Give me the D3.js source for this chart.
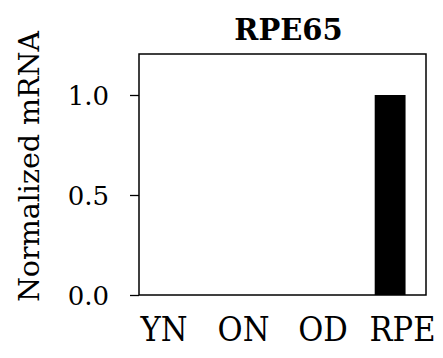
<!DOCTYPE html>
<html>
<head>
<meta charset="utf-8">
<script src="https://cdn.jsdelivr.net/npm/d3@7"></script>
<style>
  body { margin: 0; background: #fff; }
  text { font-family: "DejaVu Serif", serif; fill: #000; }
  .cond { font-family: "DejaVu Serif Condensed", "DejaVu Serif", serif; }
</style>
</head>
<body>
<svg id="chart" width="443" height="358"></svg>
<script>
// data
const categories = ["YN", "ON", "OD", "RPE"];
const values = [0, 0, 0, 1.0];
const yTicks = [0, 0.5, 1.0];
const title = "RPE65";
const yLabel = "Normalized mRNA";

const W = 443, H = 358;
const margin = {top: 54, right: 17, bottom: 63, left: 139};
const innerW = W - margin.left - margin.right,
      innerH = H - margin.top - margin.bottom;

const svg = d3.select("#chart");
const g = svg.append("g")
  .attr("transform", "translate(" + margin.left + "," + margin.top + ")");

const x = d3.scaleBand().domain(categories).range([0, innerW]).paddingInner(0.57).paddingOuter(0.285);
const y = d3.scaleLinear().domain([0, 1.205]).range([innerH, 0]);
// the category labels sit a little wider apart than the bars
const xLab = d3.scalePoint().domain(categories).range([24.5, 263]);

// plot frame
g.append("rect")
  .attr("width", innerW).attr("height", innerH)
  .attr("fill", "none").attr("stroke", "#000").attr("stroke-width", 1.5);

// bars
g.selectAll("rect.bar")
  .data(values)
  .enter().append("rect")
  .attr("class", "bar")
  .attr("x", (d, i) => x(categories[i]))
  .attr("width", x.bandwidth())
  .attr("y", d => y(d))
  .attr("height", d => innerH - y(d))
  .attr("fill", "#000");

// y axis
const yAxis = g.append("g")
  .call(d3.axisLeft(y).tickValues(yTicks).tickFormat(d3.format(".1f")).tickSize(9).tickPadding(21));
yAxis.select(".domain").remove();
yAxis.selectAll("line").attr("stroke", "#000").attr("stroke-width", 1.3);
yAxis.selectAll("text").style("font-size", "26px").attr("dy", "0.35em");

// x axis (labels only)
const xAxis = g.append("g")
  .attr("transform", "translate(0," + innerH + ")")
  .call(d3.axisBottom(xLab).tickSize(0).tickPadding(22));
xAxis.select(".domain").remove();
xAxis.selectAll("text").attr("class", "cond").style("font-size", "34px").attr("dy", "0.71em");

// title
svg.append("text")
  .attr("x", margin.left + innerW / 2 + 6)
  .attr("y", 40)
  .attr("text-anchor", "middle")
  .style("font-size", "29px")
  .style("font-weight", "bold")
  .text(title);

// y label
svg.append("text")
  .attr("transform", "translate(39," + (margin.top + innerH / 2 - 8) + ") rotate(-90)")
  .attr("text-anchor", "middle")
  .style("font-size", "28.5px")
  .text(yLabel);
</script>
</body>
</html>
